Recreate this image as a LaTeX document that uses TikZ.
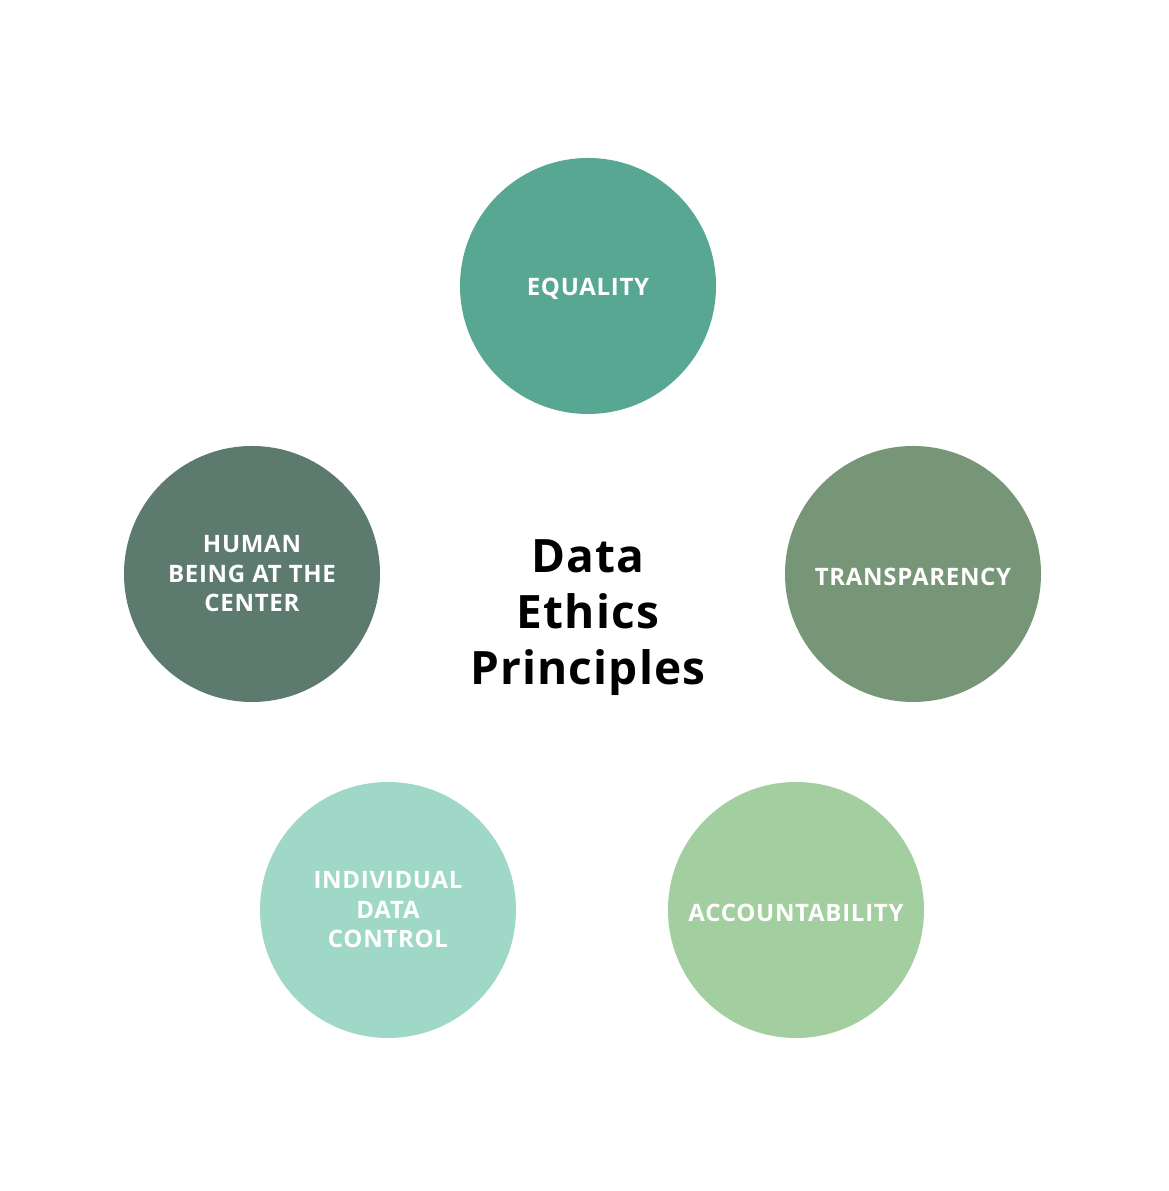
\documentclass[tikz,border=0pt]{standalone}
\usepackage{fontspec}
\setmainfont{Open Sans}
\newfontfamily\capsfont[LetterSpace=3]{Open Sans}
\newfontfamily\titlefont[LetterSpace=2.5]{Open Sans}
\definecolor{cEq}{HTML}{58A792}
\definecolor{cTr}{HTML}{779577}
\definecolor{cAc}{HTML}{A3CEA0}
\definecolor{cIn}{HTML}{A0D8C7}
\definecolor{cHu}{HTML}{5D7A6F}
\newcommand{\lowerlbl}[1]{\raisebox{-2.5pt}[\height][\depth]{#1}}
\tikzset{
  principle/.style={circle, minimum size=256pt, inner sep=0pt, draw=none, text=white, align=center,
    font=\capsfont\fontsize{24}{29.5}\selectfont\bfseries},
  title/.style={align=center, font=\titlefont\fontsize{46}{56}\selectfont\bfseries, text=black}
}
\begin{document}
\begin{tikzpicture}[x=1pt,y=1pt]
\useasboundingbox (0,0) rectangle (1169,1191);
\fill[white] (0,0) rectangle (1169,1191);
\node[principle, fill=cEq] (eq) at (588,905) {\lowerlbl{EQUALITY}};
\node[principle, fill=cTr] (tr) at (913,617) {\lowerlbl{TRANSPARENCY}};
\node[principle, fill=cAc] (ac) at (796,281) {\lowerlbl{ACCOUNTABILITY}};
\node[principle, fill=cIn] (in) at (388,281) {INDIVIDUAL\\DATA\\CONTROL};
\node[principle, fill=cHu] (hu) at (252,617) {HUMAN\\BEING AT THE\\CENTER};
\node[title] (t) at (588,573) {Data\\Ethics\\Principles};
\end{tikzpicture}
\end{document}
